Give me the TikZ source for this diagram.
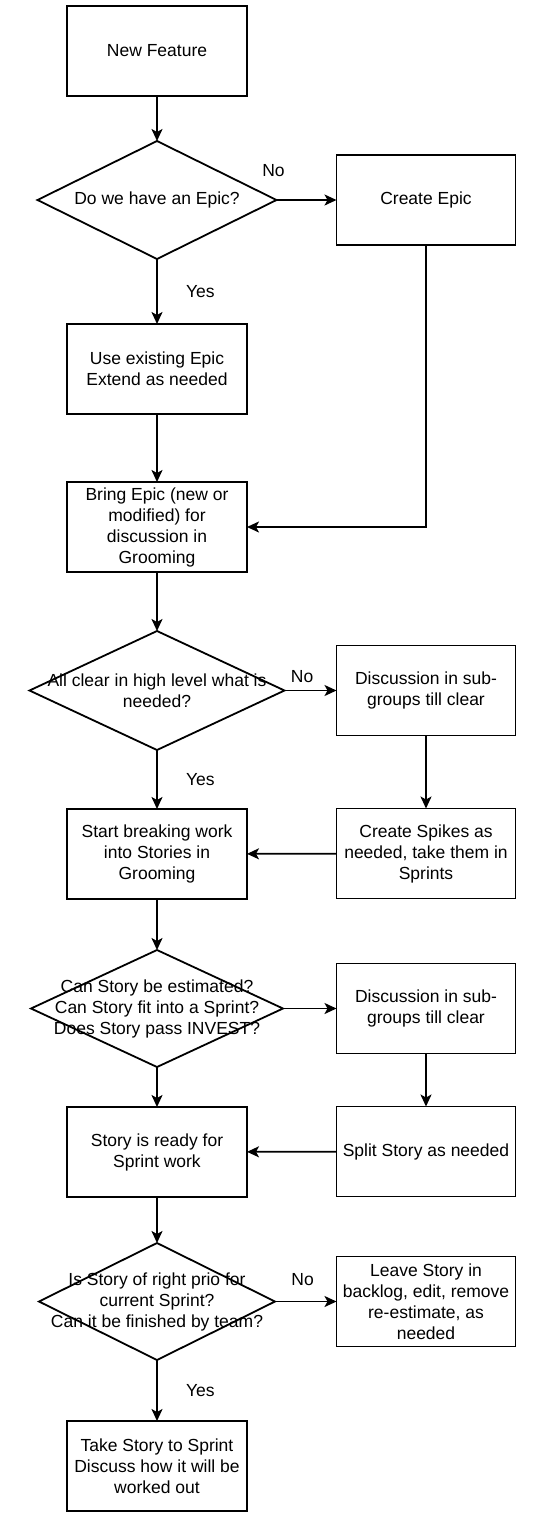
\documentclass[tikz,border=0pt]{standalone}
\usepackage{fontspec}
\setmainfont{Liberation Sans}
\usetikzlibrary{positioning,shapes.geometric,arrows.meta}
\begin{document}
\begin{tikzpicture}[line width=1.8pt, outer sep=0pt,
    txt/.style = {font=\fontsize{17.5pt}{21pt}\selectfont, align=center},
    box/.style = {draw, rectangle, txt, minimum width=180pt, minimum height=90pt, inner sep=2pt},
    decision/.style = {draw, diamond, inner sep=0pt, minimum width=239pt, minimum height=118pt},
    dtext/.style = {txt, inner sep=0pt},
    lbl/.style = {font=\fontsize{17.5pt}{21pt}\selectfont, inner sep=0pt},
    arr/.style = {-{Stealth[length=12pt, width=11pt, inset=3pt]}}]
    \useasboundingbox (0,0) rectangle (536pt,-1537pt);
    % main column
    \node[box] (nf) at (157pt,-51pt) {New Feature};
    \node[decision, below=45pt of nf, label={[dtext]center:Do we have an Epic?}] (d1) {};
    \node[box, below=65pt of d1] (use) {Use existing Epic\\Extend as needed};
    \node[box, below=68pt of use] (bring) {Bring Epic (new or\\modified) for\\discussion in\\Grooming};
    \node[decision, below=59pt of bring, minimum width=255pt, minimum height=119pt,
        label={[dtext]center:All clear in high level what is\\needed?}] (d2) {};
    \node[box, below=59pt of d2] (start) {Start breaking work\\into Stories in\\Grooming};
    \node[decision, below=51pt of start, minimum width=252pt, minimum height=117pt,
        label={[dtext]center:Can Story be estimated?\\Can Story fit into a Sprint?\\Does Story pass INVEST?}] (d3) {};
    \node[box, below=40pt of d3] (ready) {Story is ready for\\Sprint work};
    \node[decision, below=46pt of ready, minimum width=236pt, minimum height=117pt,
        label={[dtext]center:Is Story of right prio for\\current Sprint?\\Can it be finished by team?}] (d4) {};
    \node[box, below=61pt of d4] (take) {Take Story to Sprint\\Discuss how it will be\\worked out};
    % side column
    \node[box, minimum width=179pt, right=60pt of d1] (ce) {Create Epic};
    \node[box, minimum width=179pt, right=52pt of d2] (disc1) {Discussion in sub-\\groups till clear};
    \node[box, minimum width=179pt, below=73pt of disc1] (spikes) {Create Spikes as\\needed, take them in\\Sprints};
    \node[box, minimum width=179pt, right=53.5pt of d3] (disc2) {Discussion in sub-\\groups till clear};
    \node[box, minimum width=179pt, below=53pt of disc2] (split) {Split Story as needed};
    \node[box, minimum width=179pt, right=61.5pt of d4] (leave) {Leave Story in\\backlog, edit, remove\\re-estimate, as\\needed};
    % connectors
    \draw[arr] (nf) -- (d1);
    \draw[arr] (d1) -- node[lbl, pos=0, above=23.7pt, xshift=-3pt] {No} (ce);
    \draw[arr] (d1) -- node[lbl, midway, right=29pt] {Yes} (use);
    \draw[arr] (use) -- (bring);
    \draw[arr] (ce) |- (bring);
    \draw[arr] (bring) -- (d2);
    \draw[arr] (d2) -- node[lbl, pos=0.34, above=7.7pt] {No} (disc1);
    \draw[arr] (d2) -- node[lbl, midway, right=29pt] {Yes} (start);
    \draw[arr] (disc1) -- (spikes);
    \draw[arr] (spikes) -- (start);
    \draw[arr] (start) -- (d3);
    \draw[arr] (d3) -- (disc2);
    \draw[arr] (d3) -- (ready);
    \draw[arr] (disc2) -- (split);
    \draw[arr] (split) -- (ready);
    \draw[arr] (ready) -- (d4);
    \draw[arr] (d4) -- node[lbl, pos=0.45, above=15.7pt] {No} (leave);
    \draw[arr] (d4) -- node[lbl, midway, right=29pt] {Yes} (take);
\end{tikzpicture}
\end{document}
